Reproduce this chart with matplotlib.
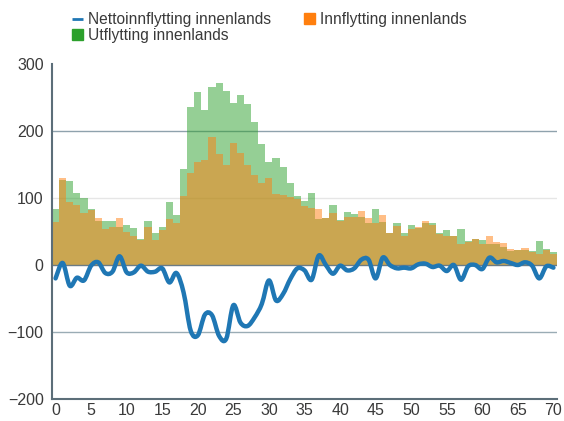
import numpy as np
import matplotlib
matplotlib.use("Agg")
import matplotlib.pyplot as plt
from matplotlib.path import Path
from matplotlib.patches import PathPatch, Patch
from matplotlib.lines import Line2D

plt.rcParams['font.family'] = ['Liberation Sans', 'DejaVu Sans']

ages = np.arange(0, 71)

# innflytting innenlands, per alder
inflow = [64, 130, 94, 89, 77, 82, 70, 53, 56, 70,
          49, 44, 38, 56, 38, 52, 68, 62, 103, 138,
          153, 157, 191, 165, 149, 182, 167, 149, 135, 123,
          130, 106, 104, 101, 98, 88, 85, 83, 70, 77,
          66, 71, 71, 80, 70, 63, 75, 48, 58, 44,
          54, 56, 65, 59, 47, 43, 44, 31, 34, 39,
          31, 43, 35, 33, 24, 22, 26, 20, 16, 22,
          16]

# utflytting innenlands, per alder
outflow = [84, 127, 125, 108, 100, 83, 66, 65, 66, 57,
           60, 55, 39, 66, 48, 57, 94, 74, 144, 236,
           258, 231, 266, 271, 259, 242, 253, 240, 213, 181,
           153, 159, 147, 122, 103, 96, 107, 69, 70, 90,
           67, 79, 76, 72, 62, 83, 64, 48, 63, 48,
           59, 55, 63, 62, 48, 52, 44, 53, 36, 39,
           37, 32, 31, 27, 21, 22, 22, 21, 36, 24,
           20]

x_ticks = list(range(0, 71, 5))
y_ticks = [-200, -100, 0, 100, 200, 300]

labels = ['Nettoinnflytting innenlands', 'Innflytting innenlands', 'Utflytting innenlands']


def smooth_path(x, y):
    # catmull-rom as cubic bezier segments
    pts = np.column_stack([x, y]).astype(float)
    n = len(pts)
    verts = [pts[0]]
    codes = [Path.MOVETO]
    for i in range(n - 1):
        p0 = pts[max(i - 1, 0)]
        p1 = pts[i]
        p2 = pts[i + 1]
        p3 = pts[min(i + 2, n - 1)]
        c1 = p1 + (p2 - p0) / 6.0
        c2 = p2 - (p3 - p1) / 6.0
        verts += [c1, c2, p2]
        codes += [Path.CURVE4] * 3
    return Path(verts, codes)


fig = plt.figure(figsize=(5.64, 4.21), dpi=100)
ax = fig.add_axes([52 / 564, 1 - 399 / 421, 505 / 564, 335 / 421])

net = np.array(inflow) - np.array(outflow)
edges = np.append(ages - 0.5, ages[-1] + 0.5)

# grid
ax.axhline(100, color='#e6e6e6', lw=1, zorder=0)
ax.axhline(200, color='#8fa2ad', lw=1, zorder=0)
ax.axhline(-100, color='#9aacb5', lw=1, zorder=0)

ax.stairs(outflow, edges, fill=True, color='#2ca02c', alpha=0.5, lw=0, zorder=1)
ax.stairs(inflow, edges, fill=True, color='#ff7f0e', alpha=0.5, lw=0, zorder=2)
ax.axhline(0, color='#6b7b85', lw=1, zorder=2.5)

ax.add_patch(PathPatch(smooth_path(ages, net), fill=False, edgecolor='#1f77b4',
                       lw=3.2, capstyle='round', joinstyle='round', zorder=3))

ax.set_xlim(-0.5, 70.5)
ax.set_ylim(-200, 300)
ax.set_xticks(x_ticks)
ax.set_yticks(y_ticks)
ax.tick_params(length=0, labelsize=11.5, labelcolor='#3a3a3a')
ax.tick_params(axis='y', pad=6)
ax.tick_params(axis='x', pad=3)

for s in ['top', 'right']:
    ax.spines[s].set_visible(False)
for s in ['left', 'bottom']:
    ax.spines[s].set_color('#5c6e79')
    ax.spines[s].set_linewidth(1.5)

handles = [Line2D([], [], color='#1f77b4', lw=2, solid_capstyle='butt'),
           Patch(color='#2ca02c'),
           Patch(color='#ff7f0e')]
fig.legend(handles, [labels[0], labels[2], labels[1]], ncol=2,
           loc='upper left', bbox_to_anchor=(72 / 564, 1 - 12 / 421),
           frameon=False, fontsize=11.2, handlelength=0.7, handleheight=0.7,
           handletextpad=0.35, columnspacing=2.1, labelspacing=0.05,
           borderpad=0, borderaxespad=0, labelcolor='#3a3a3a')

fig.savefig('out.png', dpi=100)
